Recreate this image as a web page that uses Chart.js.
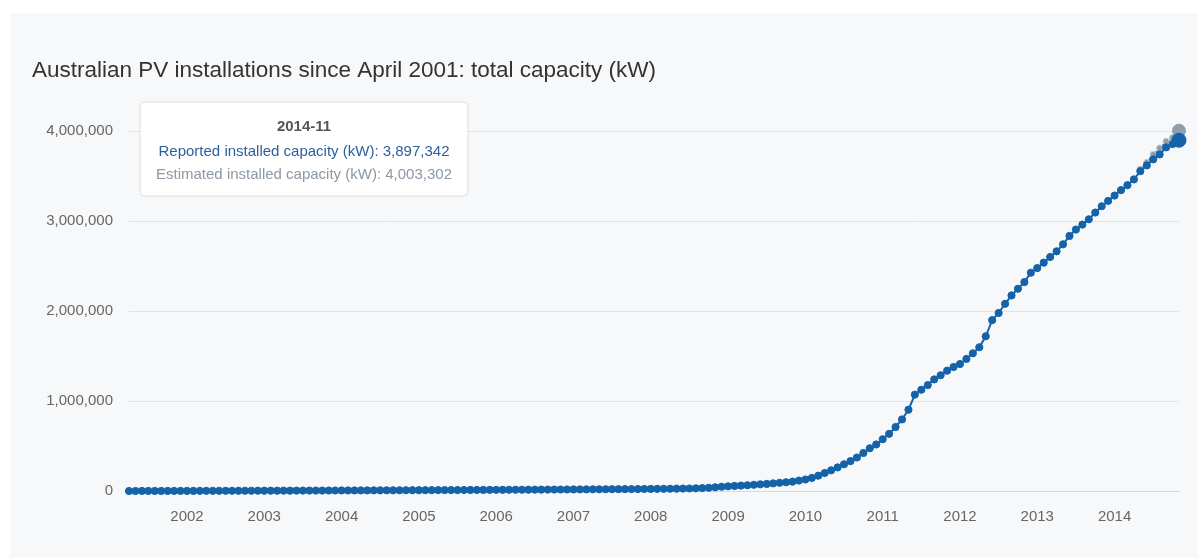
<!DOCTYPE html>
<html>
<head>
<meta charset="utf-8">
<script src="https://cdn.jsdelivr.net/npm/chart.js@4"></script>
<style>
  html, body { margin: 0; padding: 0; background: #ffffff; }
  #panel { position: absolute; left: 10px; top: 13px; width: 1188px; height: 545px; background: #f7f8fa; }
  #panel canvas { display: block; }
</style>
</head>
<body>
<div id="panel"><canvas id="c"></canvas></div>
<script>
// ---- data ----
const startYear = 2001, startMonth = 4;       // April 2001
const monthCount = 164;                        // through November 2014
const months = [];
for (let k = 0; k < monthCount; k++) {
  const m0 = startMonth - 1 + k;
  const y = startYear + Math.floor(m0 / 12);
  const m = (m0 % 12) + 1;
  months.push(y + '-' + (m < 10 ? '0' + m : '' + m));
}

const reportedLabel = 'Reported installed capacity (kW)';
const estimatedLabel = 'Estimated installed capacity (kW)';

// Reported cumulative capacity (kW), one value per month
const reported = [
  // 2001 Apr-Dec
  90, 190, 300, 420, 540, 670, 800, 940, 1080,
  // 2002
  1220, 1370, 1520, 1680, 1840, 2000, 2170, 2340, 2520, 2700, 2880, 3070,
  // 2003
  3260, 3450, 3650, 3850, 4060, 4270, 4480, 4700, 4920, 5150, 5380, 5610,
  // 2004
  5850, 6090, 6330, 6580, 6830, 7090, 7350, 7610, 7880, 8150, 8430, 8710,
  // 2005
  8990, 9280, 9570, 9870, 10170, 10480, 10790, 11100, 11420, 11750, 12080, 12410,
  // 2006
  12750, 13090, 13440, 13790, 14150, 14510, 14880, 15250, 15630, 16010, 16400, 16800,
  // 2007
  17200, 17610, 18030, 18460, 18900, 19350, 19820, 20300, 20800, 21330, 21890, 22480,
  // 2008
  23100, 23760, 24460, 25210, 26020, 26900, 27900, 29600, 32400, 36200, 41100, 47300,
  // 2009
  52000, 56000, 60000, 64000, 69000, 74000, 79000, 85000, 91000, 97000, 104000, 116000,
  // 2010
  128000, 145000, 170000, 200000, 230000, 262000, 297000, 332000, 372000, 422000, 475000, 517000,
  // 2011
  575000, 635000, 711000, 795000, 903000, 1071000, 1125000, 1177000, 1240000, 1286000, 1337000, 1378000,
  // 2012
  1411000, 1467000, 1530000, 1597000, 1719000, 1898000, 1978000, 2080000, 2173000, 2247000, 2321000, 2425000,
  // 2013
  2477000, 2537000, 2600000, 2663000, 2741000, 2834000, 2905000, 2960000, 3019000, 3094000, 3164000, 3223000,
  // 2014 Jan-Nov
  3283000, 3343000, 3398000, 3462000, 3554000, 3618000, 3685000, 3740000, 3818000, 3855000, 3897342
];

// Estimated capacity where it differs from the reported series (recent months)
const estimatedMonths = ['2014-05', '2014-06', '2014-07', '2014-08', '2014-09', '2014-10', '2014-11'];
const estimated = [3575000, 3650000, 3740000, 3810000, 3885000, 3925000, 4003302];

const yTicks = [0, 1000000, 2000000, 3000000, 4000000];
const titleText = 'Australian PV installations since April 2001: total capacity (kW)';

// ---- chart ----
const FONT = '"Liberation Sans", Arial, Helvetica, sans-serif';
const BLUE = '#1462a8';
const GRAY = '#8e9eac';

const TooltipPlugin = Chart.Tooltip || Chart.registry.plugins.get('tooltip');
TooltipPlugin.positioners.panelTopLeft = function () {
  return { x: 294, y: 136 };
};

const chart = new Chart(document.getElementById('c'), {
  type: 'line',
  data: {
    labels: months,
    datasets: [
      {
        label: reportedLabel,
        data: reported,
        borderColor: BLUE,
        backgroundColor: BLUE,
        borderWidth: 2,
        pointRadius: 3.6,
        pointBorderWidth: 1,
        pointBorderColor: BLUE,
        pointBackgroundColor: BLUE,
        pointHoverRadius: 7,
        pointHoverBorderWidth: 1,
        pointHoverBackgroundColor: BLUE,
        pointHoverBorderColor: BLUE,
        tension: 0,
        clip: false
      },
      {
        label: estimatedLabel,
        data: estimatedMonths.map((m, i) => ({ x: m, y: estimated[i] })),
        borderColor: GRAY,
        backgroundColor: GRAY,
        borderWidth: 1.5,
        pointRadius: 3.2,
        pointBorderWidth: 1,
        pointBorderColor: '#c7d0d8',
        pointBackgroundColor: GRAY,
        pointHoverRadius: 6.5,
        pointHoverBorderWidth: 1,
        pointHoverBackgroundColor: GRAY,
        pointHoverBorderColor: GRAY,
        tension: 0,
        clip: false
      }
    ]
  },
  options: {
    responsive: true,
    maintainAspectRatio: false,
    animation: false,
    events: [],
    layout: { padding: { left: 22, right: 19, top: 20, bottom: 15 } },
    plugins: {
      legend: { display: false },
      title: {
        display: true,
        text: titleText,
        align: 'start',
        color: '#333333',
        font: { family: FONT, size: 22.5, weight: 'normal' },
        padding: { top: 24.5, bottom: 46.5 }
      },
      tooltip: {
        enabled: true,
        position: 'panelTopLeft',
        xAlign: 'center',
        yAlign: 'center',
        caretSize: 0,
        caretPadding: 0,
        backgroundColor: 'rgba(255,255,255,0.97)',
        borderColor: '#dcdcdc',
        borderWidth: 1,
        cornerRadius: 4,
        displayColors: false,
        titleAlign: 'center',
        bodyAlign: 'center',
        titleColor: '#555555',
        titleFont: { family: FONT, size: 15, weight: 'bold' },
        bodyFont: { family: FONT, size: 15 },
        titleMarginBottom: 7,
        bodySpacing: 5.3,
        padding: { top: 15.7, bottom: 12, left: 16, right: 16 },
        callbacks: {
          title: (items) => items.length ? months[items[0].dataIndex + (items[0].datasetIndex === 1 ? monthCount - estimated.length : 0)] : '',
          label: (item) => item.dataset.label + ': ' + Number(item.parsed.y).toLocaleString('en-US'),
          labelTextColor: (item) => item.datasetIndex === 0 ? '#2c5f9e' : '#8b98a5'
        }
      }
    },
    scales: {
      x: {
        type: 'category',
        offset: false,
        grid: { display: false, drawTicks: false },
        border: { display: true, color: '#d6d9de', width: 1 },
        ticks: {
          autoSkip: false,
          maxRotation: 0,
          minRotation: 0,
          padding: 17,
          color: '#666666',
          font: { family: FONT, size: 15 },
          callback: function (value) {
            const lab = months[value];
            return lab && lab.endsWith('-01') ? lab.slice(0, 4) : '';
          }
        }
      },
      y: {
        min: 0,
        max: 4000000,
        afterBuildTicks: (scale) => { scale.ticks = yTicks.map(v => ({ value: v })); },
        afterFit: (scale) => { scale.width = 97; },
        grid: { color: '#e2e3e5', lineWidth: 1, drawTicks: false },
        border: { display: false },
        ticks: {
          padding: 16,
          color: '#666666',
          font: { family: FONT, size: 15 },
          callback: (v) => Number(v).toLocaleString('en-US')
        }
      }
    }
  }
});

const active = [
  { datasetIndex: 0, index: reported.length - 1 },
  { datasetIndex: 1, index: estimated.length - 1 }
];
chart.setActiveElements(active);
chart.tooltip.setActiveElements(active, { x: 0, y: 0 });
chart.draw();
</script>
</body>
</html>
